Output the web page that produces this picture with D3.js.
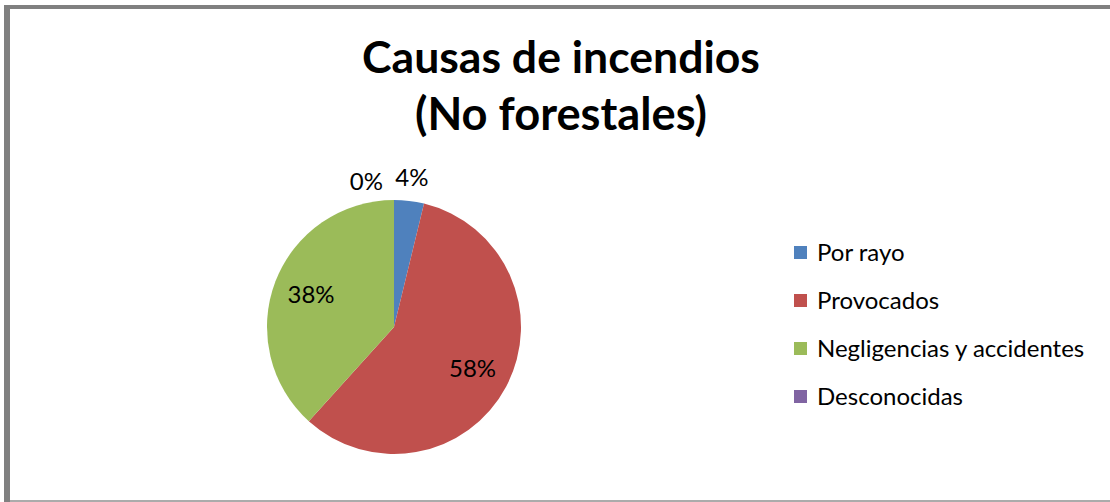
<!DOCTYPE html>
<html><head><meta charset="utf-8">
<script src="https://cdn.jsdelivr.net/npm/d3@7"></script>
<style>html,body{margin:0;padding:0;background:#fff;}svg{display:block;}</style>
</head><body>
<svg id="c" width="1110" height="502"></svg>
<script>
const categories = ["Por rayo", "Provocados", "Negligencias y accidentes", "Desconocidas"];
const values = [3.8, 57.9, 38.3, 0];
const colors = ["#4F81BD", "#C0504D", "#9BBB59", "#8064A2"];
const titleLines = ["Causas de incendios", "(No forestales)"];

const FONT = "Lato, 'Open Sans', sans-serif";
const svg = d3.select("#c");

// frame
svg.append("rect").attr("x",0).attr("y",0).attr("width",1110).attr("height",502).attr("fill","#fff");
svg.append("rect").attr("x",4).attr("y",5).attr("width",1106).attr("height",4).attr("fill","#808080");
svg.append("rect").attr("x",4).attr("y",5).attr("width",6).attr("height",497).attr("fill","#808080");
svg.append("rect").attr("x",10).attr("y",500).attr("width",1100).attr("height",2).attr("fill","#ababab");

// title
const titleW = [398, 292];
const titleY = [73, 130];
titleLines.forEach((t,i)=>{
  const tx = svg.append("text").attr("x",561).attr("y",titleY[i]).attr("text-anchor","middle")
    .attr("font-family",FONT).attr("font-weight","bold").attr("font-size",40).attr("fill","#000").text(t);
  const w = tx.node().getComputedTextLength();
  tx.attr("font-size", 40*titleW[i]/w);
});

// pie
const cx = 394, cy = 327, R = 127;
const pie = d3.pie().sort(null).value(d=>d)(values);
const arc = d3.arc().innerRadius(0).outerRadius(R);
const g = svg.append("g").attr("transform",`translate(${cx},${cy})`);
g.selectAll("path").data(pie).join("path").attr("d",arc).attr("fill",(d,i)=>colors[i]);

const FS = 24;
const total = d3.sum(values);
const inner = d3.arc().innerRadius(R*0.7).outerRadius(R*0.7);
const outer = d3.arc().innerRadius(R+23).outerRadius(R+23);
pie.forEach((d,i)=>{
  const share = d.value/total;
  let p = share < 0.06 ? outer.centroid(d) : inner.centroid(d);
  let anchor = "middle";
  if (share === 0) { p = [p[0]-11, p[1]+5]; anchor = "end"; }
  g.append("text").attr("x",p[0]).attr("y",p[1]).attr("dy","0.35em").attr("text-anchor",anchor)
    .attr("font-family",FONT).attr("font-size",FS).attr("fill","#000")
    .text(d3.format(".0%")(share));
});

// legend
const ly = d3.scalePoint().domain(categories).range([253, 397]);
const lg = svg.append("g");
categories.forEach((c,i)=>{
  lg.append("rect").attr("x",794).attr("y",ly(c)-7).attr("width",13).attr("height",13).attr("fill",colors[i]);
  lg.append("text").attr("x",817).attr("y",ly(c)).attr("dy","0.35em")
    .attr("font-family",FONT).attr("font-size",FS).attr("fill","#000").text(c);
});
</script>
</body></html>
